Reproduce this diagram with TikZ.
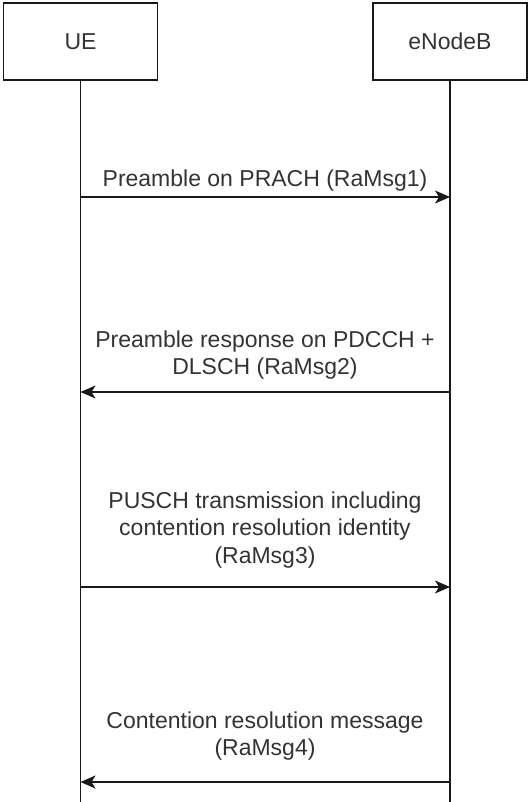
\documentclass[tikz,border=0pt]{standalone}
\usepackage{fontspec}
\setmainfont{Liberation Sans}
\usetikzlibrary{arrows.meta}
\begin{document}
\begin{tikzpicture}[x=1pt,y=-1pt,
  actor/.style={draw=black!90, line width=1.4pt, minimum width=154pt, minimum height=77pt,
    inner sep=0pt, text=black!80, font=\fontsize{23}{27.6}\selectfont},
  lifeline/.style={draw=black!90, line width=1.4pt},
  msg/.style={draw=black!90, line width=1.4pt,
    -{Stealth[length=15pt,width=13pt,inset=4pt]}},
  lbl/.style={align=center, text=black!80, inner sep=0pt,
    font=\fontsize{23}{27.6}\selectfont}]
\useasboundingbox (0,0) rectangle (529,802);

% participants
\node[actor] (ue)  at (80.5,41.5) {UE};
\node[actor] (enb) at (450,41.5) {eNodeB};

% lifelines
\coordinate (ueEnd)  at (80.5,802);
\coordinate (enbEnd) at (450,802);
\draw[lifeline] (ue.south) -- (ueEnd);
\draw[lifeline] (enb.south) -- (enbEnd);

% message anchor points on the lifelines
\coordinate (u1) at (80.5,197);  \coordinate (e1) at (450,197);
\coordinate (u2) at (80.5,392);  \coordinate (e2) at (450,392);
\coordinate (u3) at (80.5,587);  \coordinate (e3) at (450,587);
\coordinate (u4) at (80.5,782);  \coordinate (e4) at (450,782);

% messages
\draw[msg] (u1) -- (e1);
\draw[msg] (e2) -- (u2);
\draw[msg] (u3) -- (e3);
\draw[msg] (e4) -- (u4);

% labels
\node[lbl] (l1) at (265,181) {Preamble on PRACH (RaMsg1)};
\node[lbl] (l2) at (265,355) {Preamble response on PDCCH +\\DLSCH (RaMsg2)};
\node[lbl] (l3) at (265,530) {PUSCH transmission including\\contention resolution identity\\(RaMsg3)};
\node[lbl] (l4) at (265,736) {Contention resolution message\\(RaMsg4)};
\end{tikzpicture}
\end{document}
